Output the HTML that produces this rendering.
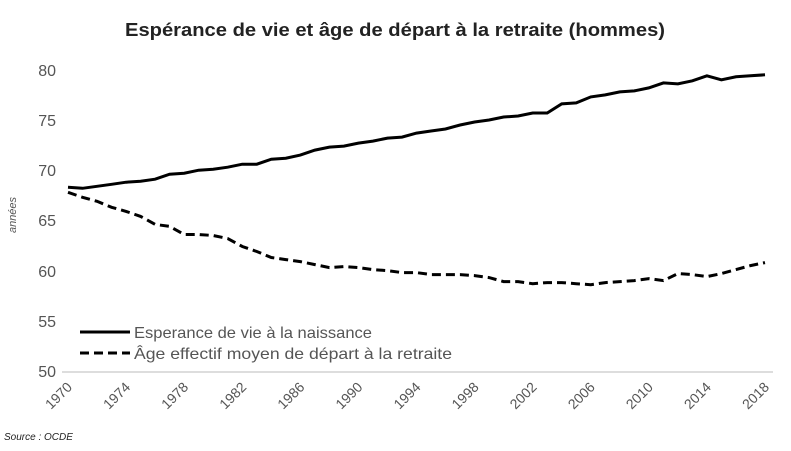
<!DOCTYPE html>
<html><head><meta charset="utf-8"><style>
body{margin:0;background:#fff;}
svg{display:block;font-family:"Liberation Sans",sans-serif;}
</style></head><body>
<svg width="791" height="451" viewBox="0 0 791 451">
<text x="125" y="36" textLength="540" lengthAdjust="spacingAndGlyphs" font-size="18" font-weight="bold" fill="#222">Espérance de vie et âge de départ à la retraite (hommes)</text>
<g font-size="16" fill="#555" text-anchor="end">
<text x="56" y="76">80</text><text x="56" y="126">75</text><text x="56" y="176">70</text>
<text x="56" y="226">65</text><text x="56" y="277">60</text><text x="56" y="327">55</text><text x="56" y="377">50</text>
</g>
<text transform="translate(16,215) rotate(-90)" text-anchor="middle" font-size="11" font-style="italic" fill="#555">années</text>
<line x1="62" y1="372" x2="773" y2="372" stroke="#ddd" stroke-width="2"/>
<g font-size="14" fill="#555" text-anchor="end" id="xl"></g>
<polyline id="s1" fill="none" stroke="#000" stroke-width="3"/>
<polyline id="s2" fill="none" stroke="#000" stroke-width="3" stroke-dasharray="9,5"/>
<line x1="80" y1="332" x2="130" y2="332" stroke="#000" stroke-width="3"/>
<line x1="80" y1="353" x2="130" y2="353" stroke="#000" stroke-width="3" stroke-dasharray="9,5"/>
<text x="134" y="338" font-size="16" textLength="238" lengthAdjust="spacingAndGlyphs" fill="#555">Esperance de vie à la naissance</text>
<text x="134" y="359" font-size="16" textLength="318" lengthAdjust="spacingAndGlyphs" fill="#555">Âge effectif moyen de départ à la retraite</text>
<text x="4" y="440" font-size="10" font-style="italic" fill="#222">Source : OCDE</text>
</svg>
<script>
var a=[68.3,68.2,68.4,68.6,68.8,68.9,69.1,69.6,69.7,70.0,70.1,70.3,70.6,70.6,71.1,71.2,71.5,72.0,72.3,72.4,72.7,72.9,73.2,73.3,73.7,73.9,74.1,74.5,74.8,75.0,75.3,75.4,75.7,75.7,76.6,76.7,77.3,77.5,77.8,77.9,78.2,78.7,78.6,78.9,79.4,79.0,79.3,79.4,79.5];
var b=[67.8,67.3,66.9,66.3,65.9,65.4,64.6,64.4,63.6,63.6,63.5,63.2,62.4,61.9,61.3,61.1,60.9,60.6,60.3,60.4,60.3,60.1,60.0,59.8,59.8,59.6,59.6,59.6,59.5,59.3,58.9,58.9,58.7,58.8,58.8,58.7,58.6,58.8,58.9,59.0,59.2,59.0,59.7,59.6,59.4,59.7,60.1,60.5,60.8];
function X(i){return 68+i*697/48}function Y(v){return 371-(v-50)*10.04}
document.getElementById('s1').setAttribute('points',a.map((v,i)=>X(i).toFixed(1)+','+Y(v).toFixed(1)).join(' '));
document.getElementById('s2').setAttribute('points',b.map((v,i)=>X(i).toFixed(1)+','+Y(v).toFixed(1)).join(' '));
var g=document.getElementById('xl'),h='';
for(var y=1970;y<=2018;y+=4){var x=X(y-1970)+5;h+='<text transform="translate('+x+',388) rotate(-45)">'+y+'</text>';}
g.innerHTML=h;
</script>
</body></html>
